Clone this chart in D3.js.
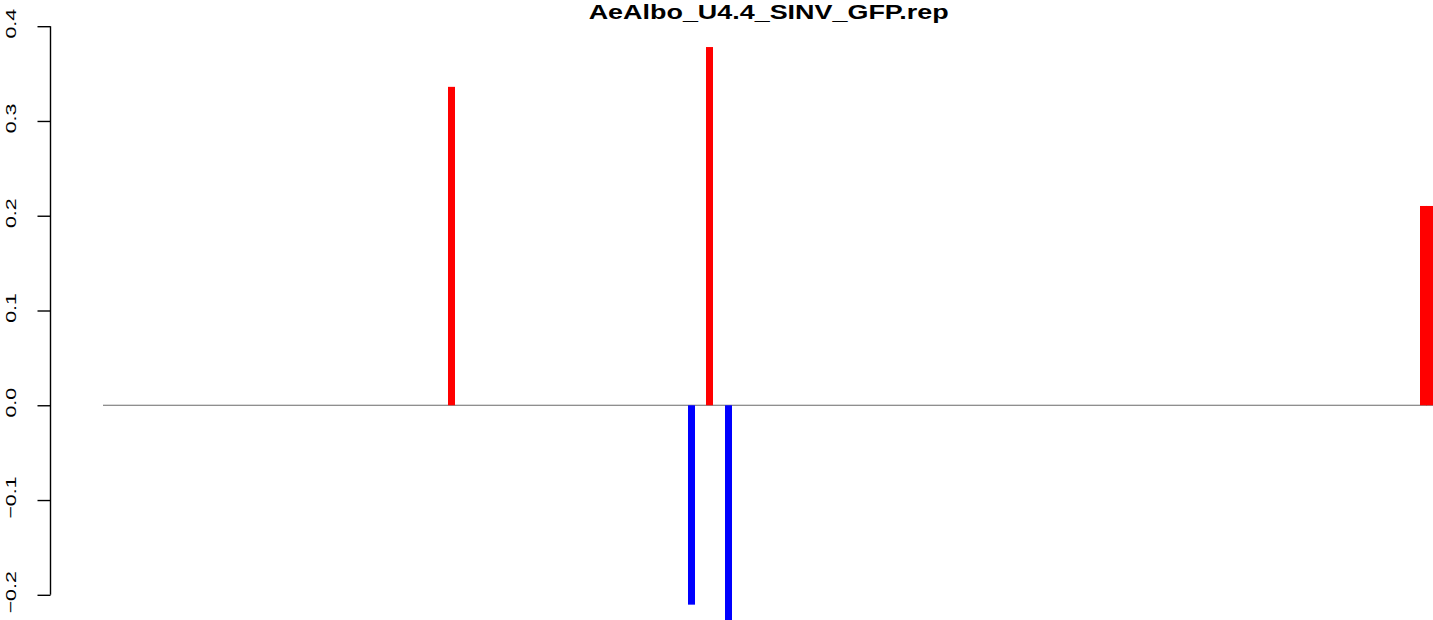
<!DOCTYPE html>
<html>
<head>
<meta charset="utf-8">
<script src="https://cdn.jsdelivr.net/npm/d3@7"></script>
<style>
  html, body { margin: 0; padding: 0; background: #fff; }
  svg { display: block; }
</style>
</head>
<body>
<svg id="chart" width="1433" height="620"></svg>
<script>
// ---- data ----
const title = "AeAlbo_U4.4_SINV_GFP.rep";
const positions = [348.5, 588.5, 606.5, 625.5, 1320.5, 1326.5];
const values    = [0.336, -0.2104, 0.378, -0.23, 0.2103, 0.2103];
const yTicks    = [-0.2, -0.1, 0.0, 0.1, 0.2, 0.3, 0.4];
const yTickLabels = ["\u22120.2", "\u22120.1", "0.0", "0.1", "0.2", "0.3", "0.4"];
const xDomain   = [0, 1330];
const yDomain   = [-0.2, 0.4];

// ---- layout ----
const svg = d3.select("#chart");
const x = d3.scaleLinear().domain(xDomain).range([103, 1433]);
const y = d3.scaleLinear().domain(yDomain).range([594.8, 26.2]);
const axisX = 50.5;
const barW = 7;

// zero line
svg.append("line")
  .attr("x1", x(xDomain[0])).attr("x2", x(xDomain[1]))
  .attr("y1", y(0)).attr("y2", y(0))
  .attr("stroke", "#6a6a6a").attr("stroke-width", 1.1);

// bars
const data = positions.map((p, i) => ({p, v: values[i]}));
svg.append("g").selectAll("rect").data(data).join("rect")
  .attr("x", d => x(d.p) - barW / 2)
  .attr("width", barW)
  .attr("y", d => Math.min(y(d.v), y(0)))
  .attr("height", d => Math.abs(y(d.v) - y(0)))
  .attr("fill", d => d.v >= 0 ? "#ff0000" : "#0000ff");

// y axis
const axis = d3.axisLeft(y)
  .tickValues(yTicks)
  .tickSize(13)
  .tickSizeOuter(0)
  .tickFormat((d, i) => yTickLabels[i]);
const gA = svg.append("g").attr("transform", `translate(${axisX},0)`).call(axis);
gA.select(".domain").attr("stroke", "#000").attr("stroke-width", 1.4)
  .attr("d", `M0,${y(yDomain[0])}V${y(yDomain[1])}`);
gA.selectAll(".tick line").attr("stroke", "#000").attr("stroke-width", 1.4);
gA.selectAll(".tick text")
  .attr("x", null).attr("dy", null)
  .attr("text-anchor", "middle")
  .attr("font-family", "Liberation Sans, Arial, sans-serif")
  .attr("font-size", 15.5)
  .attr("fill", "#000")
  .attr("transform", `translate(${16 - axisX},-3) rotate(-90) scale(1.38,1)`);

// title
svg.append("text")
  .attr("x", 768.7).attr("y", 19.3)
  .attr("text-anchor", "middle")
  .attr("font-family", "Liberation Sans, Arial, sans-serif")
  .attr("font-weight", "bold")
  .attr("font-size", 20)
  .attr("textLength", 360)
  .attr("lengthAdjust", "spacingAndGlyphs")
  .text(title);
</script>
</body>
</html>
